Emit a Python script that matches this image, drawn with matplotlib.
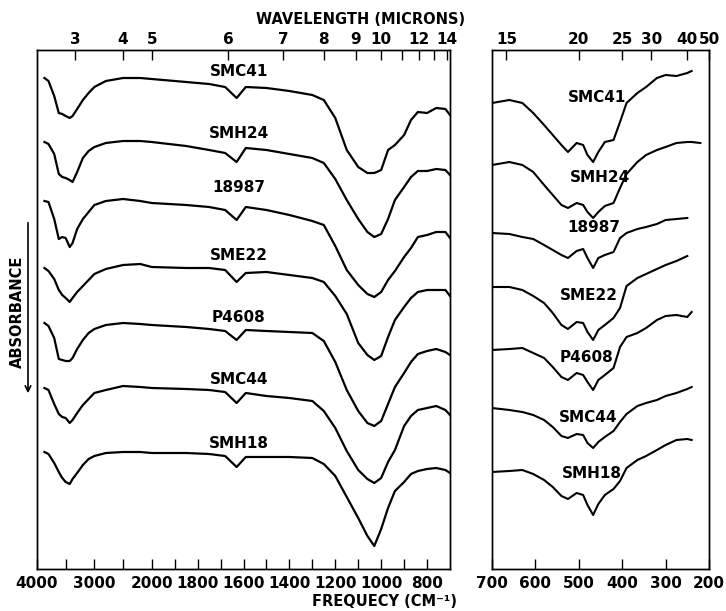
import numpy as np
import matplotlib.pyplot as plt

plt.rcParams['font.family'] = ['DejaVu Sans']

names = ["SMC41", "SMH24", "18987", "SME22", "P4608", "SMC44", "SMH18"]

# ---- left panel: 4000-700 cm-1 (absorbance, down = more) ----
left_freq = [3870, 3800, 3700, 3620, 3560, 3500, 3430, 3380, 3300, 3200,
             3100, 3000, 2800, 2500, 2200, 2000, 1850, 1750, 1680, 1630,
             1590, 1500, 1400, 1300, 1250, 1200, 1150, 1100, 1060, 1030,
             1000, 970, 940, 900, 870, 840, 800, 760, 720, 700]

smc41_left = [0, 3, 18, 35, 36, 38, 40, 38, 31, 22, 15, 9, 3, 0, 0, 1, 4, 6, 9, 20,
              9, 10, 13, 17, 22, 40, 72, 89, 95, 95, 92, 72, 67, 57, 42, 34, 35, 30, 31, 37]
smh24_left = [2, 4, 14, 34, 37, 38, 40, 42, 32, 18, 11, 7, 3, 1, 1, 2, 6, 10, 13, 22,
              8, 10, 14, 18, 23, 39, 60, 79, 92, 97, 94, 79, 60, 47, 37, 31, 31, 29, 30, 35]
s18987_left = [2, 3, 20, 40, 38, 39, 48, 44, 30, 20, 13, 6, 2, 0, 2, 4, 6, 8, 11, 21,
               8, 11, 16, 22, 26, 47, 71, 86, 95, 98, 93, 81, 72, 58, 49, 38, 36, 33, 33, 39]
sme22_left = [4, 7, 15, 26, 31, 34, 38, 34, 28, 22, 16, 10, 5, 1, 0, 3, 4, 4, 6, 18,
              9, 8, 11, 14, 18, 32, 50, 79, 91, 96, 92, 73, 56, 43, 34, 28, 26, 26, 26, 32]
p4608_left = [0, 3, 15, 36, 37, 38, 38, 35, 26, 17, 10, 6, 2, 0, 1, 2, 4, 6, 8, 17,
              7, 8, 9, 10, 18, 39, 67, 88, 100, 103, 98, 81, 64, 50, 39, 31, 28, 26, 29, 32]
smc44_left = [2, 4, 18, 28, 31, 32, 37, 34, 27, 19, 13, 7, 4, 0, 1, 2, 3, 4, 6, 17,
              7, 10, 12, 15, 25, 42, 65, 84, 93, 97, 92, 76, 64, 40, 30, 24, 22, 20, 24, 29]
smh18_left = [0, 2, 11, 20, 26, 30, 32, 27, 21, 13, 7, 4, 1, 0, 0, 1, 1, 2, 4, 15,
              5, 5, 5, 6, 12, 24, 45, 66, 84, 94, 77, 56, 39, 30, 22, 19, 17, 16, 18, 21]

left_curves = [smc41_left, smh24_left, s18987_left, sme22_left,
               p4608_left, smc44_left, smh18_left]
left_base = [78, 140, 199, 264, 323, 386, 452]
left_label_y = [72, 133, 187, 256, 317, 379, 443]

# ---- right panel: 700-200 cm-1 ----
nan = np.nan
right_freq = [700, 660, 630, 605, 580, 560, 540, 525, 505, 490, 480, 467, 455,
              440, 420, 405, 390, 365, 345, 320, 300, 275, 250, 240, 220]

smc41_right = [0, -3, 0, 10, 22, 32, 42, 49, 40, 42, 52, 59, 49, 39, 37, 19, 0,
               -10, -16, -25, -28, -27, -30, -32, nan]
smh24_right = [0, -3, 0, 7, 20, 30, 40, 43, 38, 40, 47, 53, 47, 41, 38, 23, 9,
               -3, -10, -15, -18, -22, -23, -23, -22]
s18987_right = [0, 1, 4, 6, 12, 17, 22, 25, 18, 16, 25, 35, 25, 22, 19, 5, 0,
                -4, -6, -9, -13, -14, -15, nan, nan]
sme22_right = [0, 0, 3, 9, 16, 26, 38, 42, 35, 36, 45, 53, 43, 38, 31, 21, -1,
               -9, -13, -18, -22, -26, -31, nan, nan]
p4608_right = [0, -1, -2, 3, 8, 17, 27, 30, 23, 25, 32, 40, 30, 25, 18, -3, -13,
               -17, -22, -30, -34, -35, -33, -38, nan]
smc44_right = [0, 2, 4, 7, 12, 19, 28, 30, 26, 27, 35, 40, 34, 29, 23, 14, 6,
               -2, -5, -8, -12, -15, -19, -21, nan]
smh18_right = [0, -1, -2, 2, 8, 15, 24, 27, 21, 23, 33, 43, 32, 23, 17, 9, -4,
               -12, -16, -22, -27, -32, -33, -32, nan]

right_curves = [smc41_right, smh24_right, s18987_right, sme22_right,
                p4608_right, smc44_right, smh18_right]
right_base = [103, 165, 233, 287, 350, 408, 472]
right_label_x = [458, 451, 465, 476, 483, 479, 470]
right_label_y = [97, 178, 228, 296, 358, 417, 473]

# tick values
left_major = [4000, 3000, 2000, 1800, 1600, 1400, 1200, 1000, 800]
left_minor = [3500, 2500, 1900, 1700, 1500, 1300, 1100, 900]
left_um_major = [3, 4, 5, 6, 7, 8, 9, 10, 12, 14]
left_um_minor = [11, 13]
right_major = [700, 600, 500, 400, 300, 200]
right_um_major = [15, 20, 25, 30, 40, 50]


# grating change at 2000 cm-1: scale above it is compressed 4x
def fwd(nu):
    nu = np.asarray(nu, dtype=float)
    return np.where(nu > 2000, 1300 + (nu - 2000) / 4.0, nu - 700)


def inv(u):
    u = np.asarray(u, dtype=float)
    return np.where(u > 1300, 2000 + 4 * (u - 1300), u + 700)


def um_fwd(mu):
    with np.errstate(divide='ignore', invalid='ignore'):
        return -fwd(10000.0 / np.asarray(mu, dtype=float))


def um_inv(u):
    with np.errstate(divide='ignore', invalid='ignore'):
        return 10000.0 / inv(-np.asarray(u, dtype=float))


def rum_fwd(mu):
    with np.errstate(divide='ignore', invalid='ignore'):
        return 700 - 10000.0 / np.asarray(mu, dtype=float)


def rum_inv(u):
    with np.errstate(divide='ignore', invalid='ignore'):
        return 10000.0 / (700 - np.asarray(u, dtype=float))


W, H = 726, 611
fig = plt.figure(figsize=(W / 100, H / 100), dpi=100)
y_top, y_bot = 50, 569
ax = fig.add_axes([37 / W, 1 - y_bot / H, 413 / W, (y_bot - y_top) / H])
ax2 = fig.add_axes([492 / W, 1 - y_bot / H, 217 / W, (y_bot - y_top) / H])

lab_font = dict(fontsize=11, fontweight='bold')
tick_font = 11

# left panel
ax.set_xscale('function', functions=(fwd, inv))
ax.set_xlim(4000, 700)
ax.set_ylim(y_bot, y_top)
for vals, base in zip(left_curves, left_base):
    ax.plot(left_freq, base + np.array(vals, dtype=float), color='black', lw=1.6)
for name, ly in zip(names, left_label_y):
    ax.text(1620, ly, name, ha='center', va='center', **lab_font)

ax.set_xticks(left_major, [str(v) for v in left_major])
ax.set_xticks(left_minor, minor=True)
ax.set_yticks([])

axt = ax.twiny()
axt.set_xscale('function', functions=(um_fwd, um_inv))
axt.set_xlim(2.5, 10000 / 700)
axt.set_xticks(left_um_major, [str(v) for v in left_um_major])
axt.set_xticks(left_um_minor, minor=True)

# right panel
ax2.set_xlim(700, 200)
ax2.set_ylim(y_bot, y_top)
for vals, base in zip(right_curves, right_base):
    ax2.plot(right_freq, base + np.array(vals, dtype=float), color='black', lw=1.5)
for name, lx, ly in zip(names, right_label_x, right_label_y):
    ax2.text(lx, ly, name, ha='center', va='center', **lab_font)
ax2.set_xticks(right_major, [str(v) for v in right_major])
ax2.set_yticks([])

ax2t = ax2.twiny()
ax2t.set_xscale('function', functions=(rum_fwd, rum_inv))
ax2t.set_xlim(10000 / 700, 50)
ax2t.set_xticks(right_um_major, [str(v) for v in right_um_major])
ax2t.set_xticks([], minor=True)

for a in (ax, ax2, axt, ax2t):
    for s in a.spines.values():
        s.set_linewidth(1.0)
    a.tick_params(axis='x', which='both', direction='in', length=7, width=1.0,
                  labelsize=tick_font)
    for t in a.get_xticklabels():
        t.set_fontweight('bold')
ax.tick_params(axis='x', pad=5)
ax2.tick_params(axis='x', pad=5)
axt.tick_params(axis='x', pad=2)
ax2t.tick_params(axis='x', pad=2)

fig.text(361 / W, 1 - 20 / H, "WAVELENGTH (MICRONS)", ha='center', va='center',
         fontsize=10.5, fontweight='bold')
fig.text(384 / W, 1 - 602 / H, "FREQUECY (CM\u207b\u00b9)", ha='center', va='center',
         fontsize=10.5, fontweight='bold')
fig.text(17 / W, 1 - 312 / H, "ABSORBANCE", rotation=90, ha='center', va='center',
         fontsize=10.5, fontweight='bold')
ax.annotate('', xy=(28 / W, 1 - 396 / H), xytext=(28 / W, 1 - 220 / H),
            xycoords='figure fraction', textcoords='figure fraction',
            arrowprops=dict(arrowstyle='->', lw=1.2, color='black'),
            annotation_clip=False)

fig.savefig('out.png', dpi=100)
